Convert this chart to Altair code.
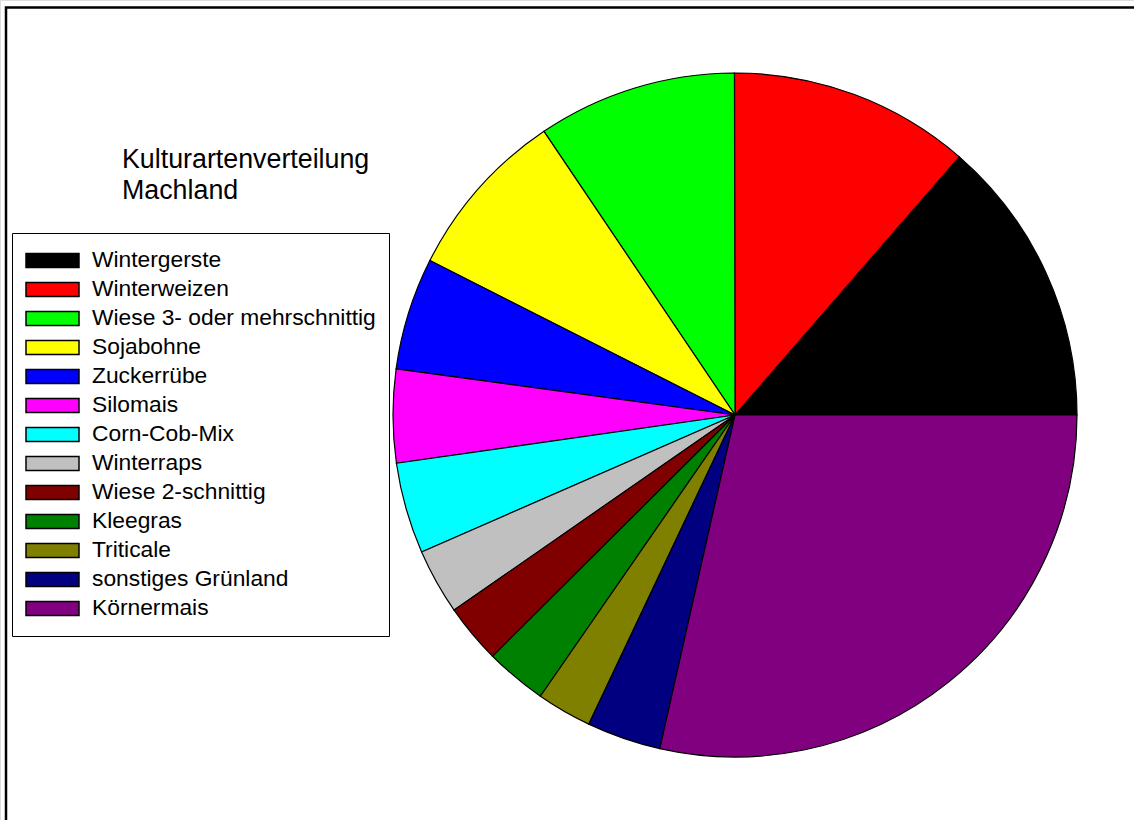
import math
import altair as alt
import pandas as pd

# Categories (legend order = drawing order, counterclockwise from 3 o'clock)
categories = [
    "Wintergerste",
    "Winterweizen",
    "Wiese 3- oder mehrschnittig",
    "Sojabohne",
    "Zuckerrübe",
    "Silomais",
    "Corn-Cob-Mix",
    "Winterraps",
    "Wiese 2-schnittig",
    "Kleegras",
    "Triticale",
    "sonstiges Grünland",
    "Körnermais",
]
# Shares in percent
shares = [13.6, 11.4, 9.4, 8.1, 5.3, 4.4, 4.3, 3.1, 2.8, 2.9, 2.6, 3.5, 28.5]
colors = [
    "#000000", "#ff0000", "#00ff00", "#ffff00", "#0000ff", "#ff00ff",
    "#00ffff", "#c0c0c0", "#800000", "#008000", "#808000", "#000080", "#800080",
]
title_lines = ["Kulturartenverteilung", "Machland"]

df = pd.DataFrame({"Kultur": categories, "Anteil": shares, "idx": list(range(len(categories)))})

FONT = "Liberation Sans"

pie = alt.Chart(df).mark_arc(stroke="black", strokeWidth=1.2, radius=342).encode(
    theta=alt.Theta(
        "Anteil:Q",
        stack=True,
        scale=alt.Scale(range=[math.pi / 2, math.pi / 2 - 2 * math.pi]),
    ),
    color=alt.Color(
        "Kultur:N",
        sort=categories,
        scale=alt.Scale(domain=categories, range=colors),
        legend=alt.Legend(
            title=None,
            orient="none",
            legendX=12,
            legendY=233,
            direction="vertical",
            symbolType="M-1,-0.264H1V0.264H-1Z",
            symbolSize=2809,
            symbolStrokeColor="black",
            symbolStrokeWidth=1.5,
            symbolOpacity=1,
            labelFont=FONT,
            labelFontSize=22.8,
            labelColor="black",
            labelOffset=12,
            labelLimit=500,
            clipHeight=28.8,
            rowPadding=0,
            strokeColor="black",
            fillColor="white",
            padding=13,
        ),
    ),
    order=alt.Order("idx:Q"),
    x=alt.value(735),
    y=alt.value(415),
)

title = alt.Chart(pd.DataFrame({"t": [0]})).mark_text(
    align="left",
    baseline="alphabetic",
    font=FONT,
    fontSize=26.8,
    lineHeight=31,
    color="black",
).encode(
    x=alt.value(122),
    y=alt.value(168),
    text=alt.value(title_lines),
)

frame = alt.Chart(pd.DataFrame({"t": [0]})).mark_rect(
    fillOpacity=0, stroke="black", strokeWidth=2.5
).encode(
    x=alt.value(6), x2=alt.value(1200), y=alt.value(7.5), y2=alt.value(900)
)

chart = alt.layer(frame, pie, title).properties(
    width=1134,
    height=820,
    autosize=alt.AutoSizeParams(type="none"),
    padding=0,
).configure_view(stroke=None).configure(background="white")

chart.save("out.html", embed_options={"renderer": "svg", "actions": False})
